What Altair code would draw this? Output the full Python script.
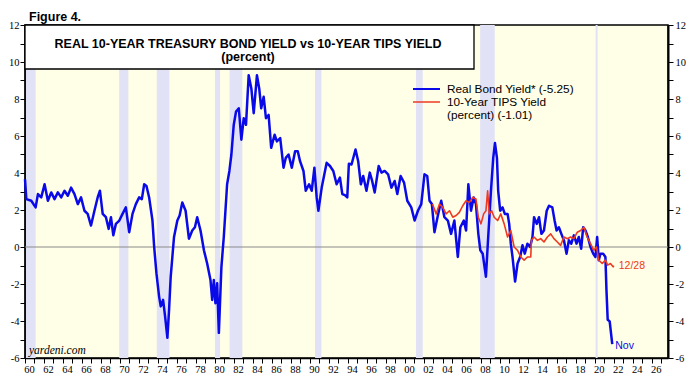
import altair as alt
import pandas as pd

# ---------------- data ----------------
blue_year = [
    1960.00, 1960.14, 1960.66, 1961.12, 1961.36, 1961.71, 1962.06, 1962.41, 1962.76, 1963.11,
    1963.46, 1963.81, 1964.16, 1964.51, 1964.85, 1965.21, 1965.56, 1965.90, 1966.26, 1966.60,
    1966.95, 1967.31, 1967.65, 1967.89, 1968.18, 1968.52, 1968.81, 1969.05, 1969.30, 1969.57,
    1969.93, 1970.27, 1970.62, 1970.97, 1971.32, 1971.67, 1972.02, 1972.30, 1972.55, 1972.79,
    1973.07, 1973.42, 1973.60, 1973.84, 1974.12, 1974.29, 1974.54, 1974.75, 1974.99, 1975.17,
    1975.34, 1975.69, 1976.04, 1976.28, 1976.56, 1976.91, 1977.26, 1977.61, 1977.89, 1978.13,
    1978.48, 1978.84, 1979.18, 1979.53, 1979.71, 1979.88, 1980.05, 1980.23, 1980.41, 1980.68,
    1980.93, 1981.28, 1981.52, 1981.73, 1981.98, 1982.22, 1982.51, 1982.78, 1983.03, 1983.27,
    1983.55, 1983.83, 1984.08, 1984.42, 1984.66, 1984.87, 1985.13, 1985.37, 1985.65, 1985.92,
    1986.28, 1986.52, 1986.87, 1987.22, 1987.46, 1987.75, 1988.09, 1988.44, 1988.72, 1988.96,
    1989.32, 1989.56, 1989.91, 1990.19, 1990.47, 1990.71, 1990.89, 1991.24, 1991.76, 1992.11,
    1992.46, 1992.81, 1993.16, 1993.41, 1993.68, 1993.93, 1994.10, 1994.38, 1994.80, 1995.08,
    1995.36, 1995.61, 1995.95, 1996.30, 1996.55, 1996.82, 1997.24, 1997.53, 1997.87, 1998.23,
    1998.58, 1998.92, 1999.20, 1999.55, 1999.91, 2000.25, 2000.67, 2001.02, 2001.37, 2001.72,
    2002.06, 2002.35, 2002.59, 2002.84, 2003.11, 2003.47, 2003.82, 2004.16, 2004.52, 2004.86,
    2005.21, 2005.57, 2005.84, 2006.20, 2006.44, 2006.68, 2006.96, 2007.24, 2007.48, 2007.73,
    2007.94, 2008.19, 2008.53, 2008.77, 2009.06, 2009.30, 2009.48, 2009.69, 2009.82, 2010.03,
    2010.28, 2010.52, 2010.81, 2010.98, 2011.15, 2011.33, 2011.60, 2011.86, 2012.13, 2012.38,
    2012.62, 2012.90, 2013.18, 2013.43, 2013.60, 2013.88, 2014.12, 2014.37, 2014.64, 2014.93,
    2015.17, 2015.52, 2015.76, 2015.97, 2016.21, 2016.47, 2016.74, 2017.02, 2017.26, 2017.52,
    2017.79, 2018.07, 2018.31, 2018.56, 2018.77, 2019.01, 2019.26, 2019.54, 2019.82, 2020.06,
    2020.24, 2020.41, 2020.59, 2020.87, 2021.11, 2021.22, 2021.35, 2021.56, 2021.83,
]
blue_val = [
    3.66, 2.59, 2.50, 2.14, 2.86, 2.68, 3.39, 2.50, 2.95, 2.59,
    2.95, 2.68, 3.04, 2.77, 3.21, 2.86, 2.32, 2.68, 1.96, 1.79,
    1.16, 1.96, 2.68, 3.04, 1.79, 1.61, 0.98, 1.61, 0.63, 1.25,
    1.43, 1.79, 2.14, 0.80, 1.79, 2.32, 2.68, 2.59, 3.39, 3.30,
    2.68, 1.43, 0.00, -1.43, -2.68, -3.21, -2.86, -3.75, -4.91, -3.39,
    -1.61, 0.54, 1.43, 1.70, 2.41, 1.96, 0.45, 0.89, 1.07, 1.61,
    0.89, -0.18, -0.89, -1.79, -2.86, -1.79, -3.04, -1.96, -4.64, -1.07,
    0.54, 3.39, 4.11, 5.00, 6.61, 7.32, 7.50, 5.80, 6.96, 6.61,
    9.28, 8.57, 7.23, 9.28, 8.57, 7.50, 8.12, 6.96, 7.14, 5.36,
    6.07, 5.71, 5.89, 4.29, 4.82, 5.00, 4.29, 5.18, 5.18, 4.64,
    4.11, 3.04, 3.39, 3.04, 4.29, 2.68, 1.96, 3.21, 4.55, 4.38,
    4.11, 3.39, 3.75, 2.86, 2.80, 2.68, 4.50, 4.46, 5.27, 4.64,
    3.39, 3.84, 3.04, 4.02, 3.57, 2.95, 4.38, 4.02, 4.11, 3.93,
    3.21, 3.57, 2.86, 3.84, 3.48, 2.50, 2.14, 1.43, 1.96, 2.32,
    3.93, 3.84, 2.50, 2.32, 0.80, 1.70, 2.50, 1.61, 1.43, 0.71,
    1.43, -0.54, 1.07, 1.43, 0.89, 3.39, 1.96, 2.68, 2.32, 0.71,
    -0.18, -0.36, -1.61, 0.54, 3.04, 4.82, 5.62, 4.82, 3.04, 1.96,
    2.14, 1.79, 1.79, 1.25, 0.18, -0.54, -1.87, -0.89, -0.54, 0.09,
    -0.36, 0.18, 0.00, 0.54, 1.61, 1.25, 1.61, 0.71, 0.89, 1.96,
    2.23, 2.14, 1.43, 0.89, 1.07, 0.71, 0.36, -0.36, 0.36, 0.18,
    0.63, 0.18, 0.54, -0.09, 1.07, 0.89, 0.54, 0.00, -0.36, -0.54,
    0.54, -0.71, -0.36, -0.36, -0.54, -2.32, -3.93, -4.02, -5.25,
]

red_year = [
    2002.90, 2003.29, 2003.64, 2003.99, 2004.34, 2004.69, 2005.04, 2005.39, 2005.73, 2006.09,
    2006.44, 2006.78, 2007.14, 2007.48, 2007.73, 2008.01, 2008.29, 2008.53, 2008.71, 2008.88,
    2009.13, 2009.40, 2009.76, 2010.10, 2010.45, 2010.81, 2011.15, 2011.50, 2011.86, 2012.20,
    2012.55, 2012.90, 2013.25, 2013.32, 2013.60, 2013.95, 2014.30, 2014.64, 2015.00, 2015.35,
    2015.69, 2016.05, 2016.39, 2016.74, 2017.10, 2017.45, 2017.79, 2018.15, 2018.50, 2018.85,
    2019.19, 2019.54, 2019.89, 2020.17, 2020.41, 2020.77, 2021.11, 2021.35, 2021.64, 2021.92,
    2021.99,
]
red_val = [
    2.32, 1.79, 2.32, 2.14, 1.79, 1.96, 1.61, 1.70, 1.87, 2.23,
    2.50, 2.41, 2.68, 2.59, 1.61, 1.25, 1.79, 1.96, 3.04, 1.79,
    1.96, 1.61, 1.43, 1.79, 1.25, 0.54, 0.89, 0.00, -0.18, -0.54,
    -0.71, -0.54, -0.54, 0.36, 0.54, 0.36, 0.45, 0.27, 0.54, 0.71,
    0.45, 0.27, 0.09, 0.54, 0.45, 0.54, 0.45, 0.80, 0.89, 1.07,
    0.54, 0.18, -0.18, 0.00, -0.71, -0.89, -0.71, -0.98, -0.89, -1.07,
    -1.01,
]

rec_start = [1960.10, 1969.92, 1973.88, 1980.00, 1981.54, 1990.54, 2001.17, 2007.92, 2020.08]
rec_end = [1961.12, 1970.88, 1975.21, 1980.54, 1982.88, 1991.21, 2001.88, 2009.46, 2020.29]

year_ticks = list(range(1960, 2028))
y_ticks = list(range(-6, 13))

title_lines = ["REAL 10-YEAR TREASURY BOND YIELD vs 10-YEAR TIPS YIELD", "(percent)"]
legend_labels = ["Real Bond Yield* (-5.25)", "10-Year TIPS Yield", "(percent) (-1.01)"]
blue_end_label = "Nov"
red_end_label = "12/28"

# ---------------- styling ----------------
W, H = 643, 333
BLUE = "#0a0ae8"
RED = "#ee3a22"
BAND = "#e2e2f6"
SANS = "Liberation Sans"
SERIF = "Liberation Serif"

X_SCALE = alt.Scale(domain=[1960, 2027.7], nice=False, zero=False)
Y_SCALE = alt.Scale(domain=[-6, 12], nice=False, zero=False)

X_AXIS = alt.Axis(
    values=year_ticks,
    labelExpr="datum.value % 2 == 0 ? slice('' + datum.value, 2) : ''",
    labelOffset=4.0, tickSize=5, labelPadding=1, grid=False, title=None,
    labelFont=SERIF, labelFontSize=10.5, labelColor="black",
    domainColor="black", domainWidth=1.5, tickColor="black", tickWidth=1,
    labelFlush=False, labelOverlap=False,
)


def y_axis(orient):
    return alt.Axis(
        orient=orient, values=y_ticks,
        labelExpr="datum.value % 2 == 0 ? '' + datum.value : ''",
        tickSize=5, labelPadding=1 if orient == "left" else 2, grid=False, title=None,
        labelFont=SERIF, labelFontSize=10.5, labelColor="black",
        domainColor="black", domainWidth=2, tickColor="black", tickWidth=1,
        labelFlush=False, labelOverlap=False,
    )


blue_df = pd.DataFrame({"year": blue_year, "v": blue_val})
red_df = pd.DataFrame({"year": red_year, "v": red_val})
rec_df = pd.DataFrame({"start": rec_start, "end": rec_end})
one = pd.DataFrame({"a": [0]})

bands = alt.Chart(rec_df).mark_rect(color=BAND).encode(
    x=alt.X("start:Q", scale=X_SCALE, axis=X_AXIS),
    x2="end:Q",
    y=alt.value(0), y2=alt.value(H),
)

zero = alt.Chart(pd.DataFrame({"v": [0]})).mark_rule(color="#8a8a8a", strokeWidth=1).encode(
    y=alt.Y("v:Q", scale=Y_SCALE, axis=y_axis("right")),
)

blue = alt.Chart(blue_df).mark_line(color=BLUE, strokeWidth=2.5, strokeJoin="round").encode(
    x=alt.X("year:Q", scale=X_SCALE, axis=X_AXIS),
    y=alt.Y("v:Q", scale=Y_SCALE, axis=y_axis("left")),
    order="year:Q",
)

red = alt.Chart(red_df).mark_line(color=RED, strokeWidth=1.6, strokeJoin="round").encode(
    x=alt.X("year:Q", scale=X_SCALE, axis=X_AXIS),
    y=alt.Y("v:Q", scale=Y_SCALE, axis=None),
    order="year:Q",
)

title_box = alt.Chart(one).mark_rect(fill="white", stroke="black", strokeWidth=1.3).encode(
    x=alt.value(0), x2=alt.value(449), y=alt.value(0), y2=alt.value(44),
)
title1 = alt.Chart(one).mark_text(
    text=title_lines[0], font=SANS, fontSize=12.5, fontWeight="bold", color="black",
    align="center", baseline="middle",
).encode(x=alt.value(223), y=alt.value(19))
title2 = alt.Chart(one).mark_text(
    text=title_lines[1], font=SANS, fontSize=12.5, fontWeight="bold", color="black",
    align="center", baseline="middle",
).encode(x=alt.value(223), y=alt.value(32))

leg_blue = alt.Chart(one).mark_rule(color=BLUE, strokeWidth=2).encode(
    x=alt.value(388), x2=alt.value(415), y=alt.value(64))
leg_red = alt.Chart(one).mark_rule(color=RED, strokeWidth=1.5).encode(
    x=alt.value(388), x2=alt.value(415), y=alt.value(77))
leg_texts = [
    alt.Chart(one).mark_text(text=t, font=SANS, fontSize=11.8, color="black",
                             align="left", baseline="middle").encode(
        x=alt.value(422), y=alt.value(yy))
    for t, yy in zip(legend_labels, [64, 77, 90])
]

blue_lbl = alt.Chart(pd.DataFrame({"year": [blue_year[-1]], "v": [blue_val[-1]]})).mark_text(
    text=blue_end_label, font=SANS, fontSize=10.5, color=BLUE, align="left",
    baseline="middle", dx=3, dy=2,
).encode(x=alt.X("year:Q", scale=X_SCALE, axis=X_AXIS), y=alt.Y("v:Q", scale=Y_SCALE, axis=None))

red_lbl = alt.Chart(pd.DataFrame({"year": [red_year[-1]], "v": [red_val[-1]]})).mark_text(
    text=red_end_label, font=SANS, fontSize=10.5, color=RED, align="left",
    baseline="middle", dx=5, dy=0,
).encode(x=alt.X("year:Q", scale=X_SCALE, axis=X_AXIS), y=alt.Y("v:Q", scale=Y_SCALE, axis=None))

source = alt.Chart(one).mark_text(
    text="yardeni.com", font=SERIF, fontSize=11.5, fontStyle="italic", color="black",
    align="left", baseline="middle",
).encode(x=alt.value(4), y=alt.value(326))

figure = alt.Chart(one).mark_text(
    text="Figure 4.", font=SANS, fontSize=12.5, fontWeight="bold", color="black",
    align="left", baseline="middle",
).encode(x=alt.value(4), y=alt.value(-8))

chart = alt.layer(
    bands, zero, blue, red, title_box, title1, title2,
    leg_blue, leg_red, *leg_texts, blue_lbl, red_lbl, source, figure,
).resolve_axis(y="independent").properties(
    width=W, height=H,
    autosize=alt.AutoSizeParams(type="none"),
    padding={"left": 17, "top": 17, "right": 19, "bottom": 17},
    background="white",
).configure_view(fill="#fffee6", stroke="black", strokeWidth=1.5)

chart.save("out.html", embed_options={"renderer": "svg", "actions": False})
